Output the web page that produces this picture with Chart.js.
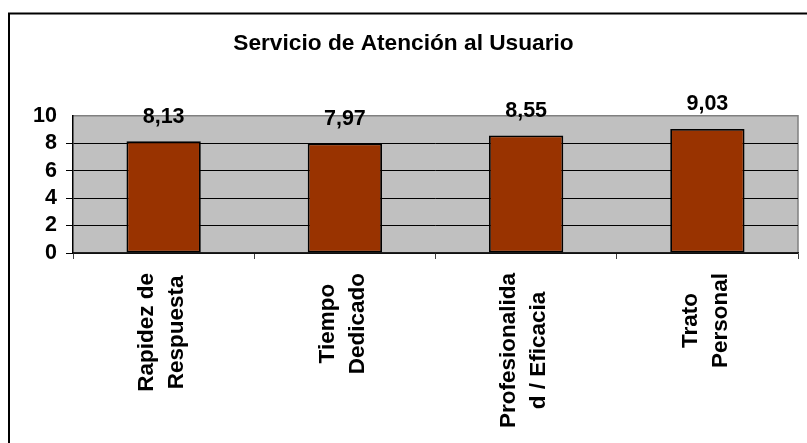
<!DOCTYPE html>
<html>
<head>
<meta charset="utf-8">
<script src="https://cdn.jsdelivr.net/npm/chart.js@4/dist/chart.umd.min.js"></script>
<style>
  html, body { margin: 0; padding: 0; background: #fff; }
  #wrap { width: 807px; height: 443px; }
</style>
</head>
<body>
<div id="wrap"><canvas id="chart" width="807" height="443"></canvas></div>
<script>
// data
const chartTitle = "Servicio de Atención al Usuario";
const categories = [
  ["Rapidez de", "Respuesta"],
  ["Tiempo", "Dedicado"],
  ["Profesionalida", "d / Eficacia"],
  ["Trato", "Personal"]
];
const scores = [8.13, 7.97, 8.55, 9.03];
const yMin = 0;
const yMax = 10;
const yStep = 2;

const FONT = "'Liberation Sans', Arial, sans-serif";
Chart.defaults.font.family = FONT;
Chart.defaults.font.weight = "bold";
Chart.defaults.color = "#000";

// white page, outer frame, grey plot area
const backdrop = {
  id: "backdrop",
  beforeDraw(chart) {
    const { ctx, chartArea: a } = chart;
    ctx.save();
    ctx.fillStyle = "#fff";
    ctx.fillRect(0, 0, chart.width, chart.height);
    ctx.strokeStyle = "#000";
    ctx.lineWidth = 2;
    ctx.beginPath();
    ctx.moveTo(9, chart.height);
    ctx.lineTo(9, 13.5);
    ctx.lineTo(chart.width, 13.5);
    ctx.stroke();
    ctx.fillStyle = "#c0c0c0";
    ctx.fillRect(a.left, a.top, a.right - a.left, a.bottom - a.top);
    ctx.strokeStyle = "#808080";
    ctx.lineWidth = 1.5;
    ctx.beginPath();
    ctx.moveTo(a.left, a.top);
    ctx.lineTo(a.right, a.top);
    ctx.lineTo(a.right, a.bottom);
    ctx.stroke();
    ctx.restore();
  }
};

// value labels above bars, e.g. "8,13"
const valueLabels = {
  id: "valueLabels",
  afterDatasetsDraw(chart) {
    const { ctx } = chart;
    const meta = chart.getDatasetMeta(0);
    ctx.save();
    ctx.font = "bold 21.5px " + FONT;
    ctx.fillStyle = "#000";
    ctx.textAlign = "center";
    ctx.textBaseline = "alphabetic";
    meta.data.forEach((bar, i) => {
      const txt = scores[i].toFixed(2).replace(".", ",");
      ctx.fillText(txt, bar.x, bar.y - 18.5);
    });
    ctx.restore();
  }
};

// rotated, centred category labels under the axis
const catLabels = {
  id: "catLabels",
  afterDraw(chart) {
    const { ctx } = chart;
    const xs = chart.scales.x;
    ctx.save();
    ctx.font = "bold 22.5px " + FONT;
    ctx.fillStyle = "#000";
    ctx.textAlign = "center";
    ctx.textBaseline = "middle";
    categories.forEach((lines, i) => {
      const cx = xs.getPixelForValue(i) - 2;
      const maxW = Math.max(...lines.map((l) => ctx.measureText(l).width));
      const cy = 273 + maxW / 2;
      lines.forEach((line, j) => {
        const off = (j - (lines.length - 1) / 2) * 30;
        ctx.save();
        ctx.translate(cx + off, cy);
        ctx.rotate(-Math.PI / 2);
        ctx.fillText(line, 0, 0);
        ctx.restore();
      });
    });
    ctx.restore();
  }
};

new Chart(document.getElementById("chart"), {
  type: "bar",
  data: {
    labels: categories,
    datasets: [
      {
        data: scores,
        backgroundColor: "#993300",
        borderColor: "#000",
        borderWidth: 1.8,
        borderSkipped: false,
        barPercentage: 0.41,
        categoryPercentage: 1
      }
    ]
  },
  options: {
    responsive: false,
    animation: false,
    layout: { padding: { left: 9, right: 9, top: 0, bottom: 0 } },
    plugins: {
      legend: { display: false },
      tooltip: { enabled: false },
      title: {
        display: true,
        text: chartTitle,
        font: { size: 22.7, weight: "bold" },
        color: "#000",
        padding: { top: 30, bottom: 58.4 }
      }
    },
    scales: {
      x: {
        afterFit: (s) => { s.height = 190; },
        grid: {
          offset: true,
          drawOnChartArea: false,
          drawTicks: true,
          tickLength: 6,
          color: "#404040"
        },
        border: { color: "#202020", width: 1.5 },
        ticks: { display: false }
      },
      y: {
        min: yMin,
        max: yMax,
        afterFit: (s) => { s.width = 64; },
        grid: {
          color: (c) => (c.tick && c.tick.value === yMax ? "rgba(0,0,0,0)" : "#000"),
          lineWidth: 1,
          drawTicks: true,
          tickLength: 7
        },
        border: { color: "#000", width: 1.5 },
        ticks: {
          stepSize: yStep,
          autoSkip: false,
          padding: 9,
          font: { size: 21.5, weight: "bold" },
          color: "#000"
        }
      }
    }
  },
  plugins: [backdrop, valueLabels, catLabels]
});
</script>
</body>
</html>
